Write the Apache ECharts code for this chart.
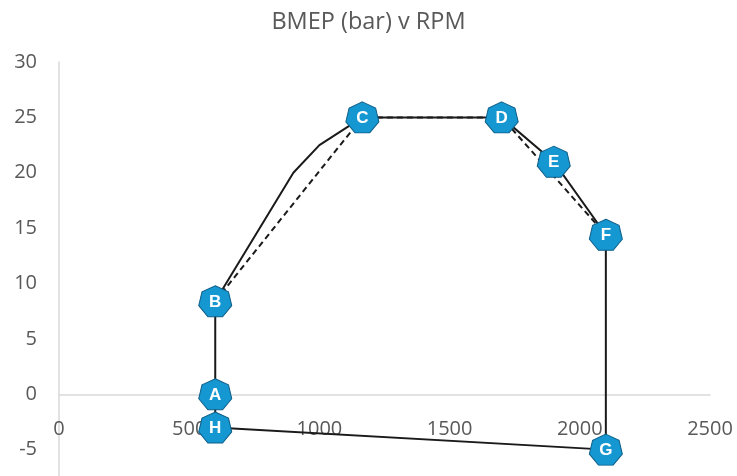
<!DOCTYPE html>
<html>
<head>
<meta charset="utf-8">
<script src="https://cdn.jsdelivr.net/npm/echarts@6/dist/echarts.min.js"></script>
<style>
  html, body { margin: 0; padding: 0; background: #fff; overflow: hidden; }
  /* plot runs past the lower edge of the window, down to -10 bar */
  #chart { width: 737px; height: 505px; }
</style>
</head>
<body>
<div id="chart"></div>
<script>
// Operating envelope corner points (RPM, BMEP in bar)
const pointNames = ['A', 'B', 'C', 'D', 'E', 'F', 'G', 'H'];
const pointRpm   = [600, 600, 1165, 1700, 1900, 2100, 2100, 600];
const pointBmep  = [0, 8.4, 25, 25, 21, 14.4, -5, -3];

// Actual envelope trace (solid)
const traceRpm  = [600, 600, 900, 1000, 1165, 1700, 1900, 2100, 2100, 600, 600];
const traceBmep = [0, 8.4, 20, 22.5, 25, 25, 21, 14.4, -5, -3, 0];

// Simplified envelope (dashed)
const idealRpm  = [600, 1165, 1700, 2100];
const idealBmep = [8.4, 25, 25, 14.4];

const xTicks = [0, 500, 1000, 1500, 2000, 2500];
const yTicks = [-10, -5, 0, 5, 10, 15, 20, 25, 30];

const pairs = (xs, ys) => xs.map((x, i) => [x, ys[i]]);

// Seven-sided marker, vertex on top
const heptagon = 'path://M50,0 L89.09,18.83 L98.75,61.13 L71.69,95.05 L28.31,95.05 L1.25,61.13 L10.91,18.83 Z';

const chart = echarts.init(document.getElementById('chart'), null, { renderer: 'canvas' });
const font = '"Open Sans", "Liberation Sans", sans-serif';

const gridTop = 62, gridBottom = 0, chartHeight = 505;
const yMin = yTicks[0], yMax = yTicks[yTicks.length - 1];
// distance from the bottom of the grid up to the zero line
const zeroLift = (chartHeight - gridTop - gridBottom) * (0 - yMin) / (yMax - yMin);

chart.setOption({
  animation: false,
  backgroundColor: '#ffffff',
  title: {
    text: 'BMEP (bar) v RPM',
    left: 'center',
    top: 5,
    textStyle: { fontFamily: font, fontSize: 23.5, fontWeight: 'normal', color: '#595959' }
  },
  grid: {
    left: 59, right: 27, top: gridTop, bottom: gridBottom,
    containLabel: false,
    outerBoundsMode: 'none'
  },
  xAxis: {
    type: 'value',
    min: xTicks[0],
    max: xTicks[xTicks.length - 1],
    interval: 500,
    offset: -zeroLift,
    axisLine: { onZero: false, lineStyle: { color: '#d9d9d9', width: 1.5 } },
    axisTick: { show: false },
    splitLine: { show: false },
    axisLabel: { margin: 25, fontFamily: font, fontSize: 20, color: '#595959', formatter: v => String(v) }
  },
  yAxis: {
    type: 'value',
    min: yMin,
    max: yMax,
    interval: 5,
    axisLine: { show: true, onZero: false, lineStyle: { color: '#d9d9d9', width: 1.5 } },
    axisTick: { show: false },
    splitLine: { show: false },
    axisLabel: { margin: 22, fontFamily: font, fontSize: 20, color: '#595959' }
  },
  series: [
    {
      type: 'line',
      data: pairs(idealRpm, idealBmep),
      showSymbol: false,
      symbol: 'none',
      lineStyle: { color: '#1a1a1a', width: 2, type: [6, 4] },
      z: 2
    },
    {
      type: 'line',
      data: pairs(traceRpm, traceBmep),
      showSymbol: false,
      symbol: 'none',
      lineStyle: { color: '#1a1a1a', width: 2 },
      z: 3
    },
    {
      type: 'scatter',
      data: pointNames.map((n, i) => ({ name: n, value: [pointRpm[i], pointBmep[i]] })),
      symbol: heptagon,
      symbolSize: [33, 31],
      itemStyle: { color: '#1597d2', borderColor: '#0f5f88', borderWidth: 1, opacity: 1 },
      label: {
        show: true,
        position: 'inside',
        formatter: p => p.name,
        color: '#ffffff',
        fontFamily: '"Liberation Sans", Arial, sans-serif',
        fontWeight: 'bold',
        fontSize: 17,
        offset: [0, 1]
      },
      z: 5
    }
  ]
});
</script>
</body>
</html>
